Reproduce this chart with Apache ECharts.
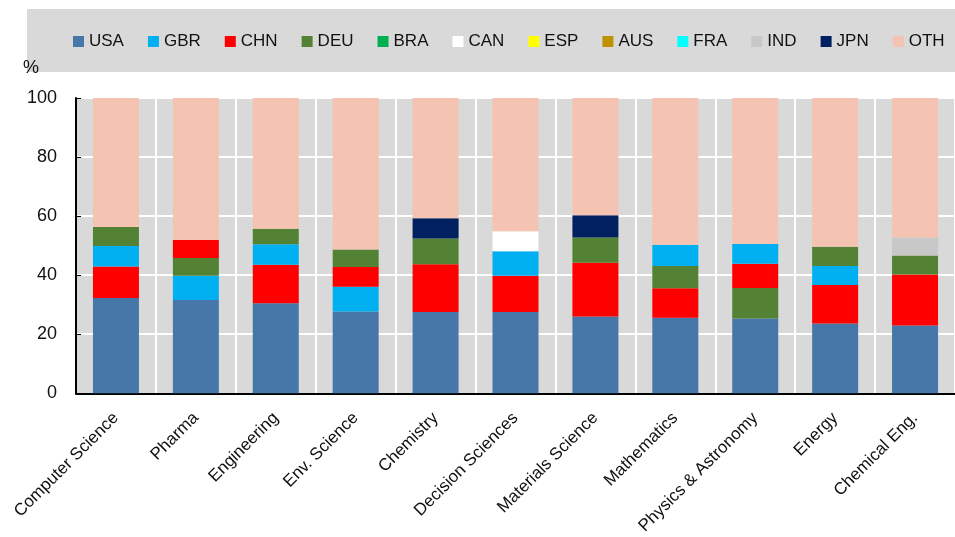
<!DOCTYPE html>
<html>
<head>
<meta charset="utf-8">
<script src="https://cdn.jsdelivr.net/npm/echarts@6/dist/echarts.min.js"></script>
<style>
  html, body { margin: 0; padding: 0; background: #fff; }
  #container { width: 955px; height: 537px; }
</style>
</head>
<body>
<div id="container"></div>
<script>
var dom = document.getElementById("container");
var myChart = echarts.init(dom);

var categories = ['Computer Science', 'Pharma', 'Engineering', 'Env. Science', 'Chemistry',
	'Decision Sciences', 'Materials Science', 'Mathematics', 'Physics & Astronomy', 'Energy', 'Chemical Eng.'];

var countries = ['USA', 'GBR', 'CHN', 'DEU', 'BRA', 'CAN', 'ESP', 'AUS', 'FRA', 'IND', 'JPN', 'OTH'];
var colorList = ['#4677a8', '#00b0f0', '#ff0000', '#548235', '#00b050', '#ffffff',
	'#ffff00', '#bf9000', '#00ffff', '#c8c8c8', '#002060', '#f4c3b2'];

// share of papers, %
var USA = [32.3, 31.6, 30.5, 27.7, 27.5, 27.5, 26.0, 25.6, 25.3, 23.6, 23.0];
var GBR = [7.0, 8.2, 7.0, 8.4, 0, 8.3, 0, 7.2, 6.7, 6.4, 0];
var CHN = [10.6, 6.1, 13.0, 6.7, 16.2, 12.3, 18.2, 10.0, 8.2, 13.1, 17.2];
var DEU = [6.4, 6.0, 5.2, 5.9, 8.7, 0, 8.6, 7.5, 10.4, 6.5, 6.5];
var BRA = [0, 0, 0, 0, 0, 0, 0, 0, 0, 0, 0];
var CAN = [0, 0, 0, 0, 0, 6.8, 0, 0, 0, 0, 0];
var ESP = [0, 0, 0, 0, 0, 0, 0, 0, 0, 0, 0];
var AUS = [0, 0, 0, 0, 0, 0, 0, 0, 0, 0, 0];
var FRA = [0, 0, 0, 0, 0, 0, 0, 0, 0, 0, 0];
var IND = [0, 0, 0, 0, 0, 0, 0, 0, 0, 0, 6.1];
var JPN = [0, 0, 0, 0, 6.9, 0, 7.5, 0, 0, 0, 0];
var OTH = [43.7, 48.1, 44.3, 51.3, 40.7, 45.1, 39.7, 49.7, 49.4, 50.4, 47.2];

// stacking order in each bar, bottom to top
var stackOrder = [
	['USA', 'CHN', 'GBR', 'DEU', 'OTH'],
	['USA', 'GBR', 'DEU', 'CHN', 'OTH'],
	['USA', 'CHN', 'GBR', 'DEU', 'OTH'],
	['USA', 'GBR', 'CHN', 'DEU', 'OTH'],
	['USA', 'CHN', 'DEU', 'JPN', 'OTH'],
	['USA', 'CHN', 'GBR', 'CAN', 'OTH'],
	['USA', 'CHN', 'DEU', 'JPN', 'OTH'],
	['USA', 'CHN', 'DEU', 'GBR', 'OTH'],
	['USA', 'DEU', 'CHN', 'GBR', 'OTH'],
	['USA', 'CHN', 'GBR', 'DEU', 'OTH'],
	['USA', 'CHN', 'DEU', 'IND', 'OTH']
];

var values = {USA: USA, GBR: GBR, CHN: CHN, DEU: DEU, BRA: BRA, CAN: CAN,
	ESP: ESP, AUS: AUS, FRA: FRA, IND: IND, JPN: JPN, OTH: OTH};

var font = '"Liberation Sans", Arial, sans-serif';
var series = [];

// empty series, only for the legend
countries.forEach(function (c, i) {
	series.push({
		name: c,
		type: 'bar',
		stack: 'all',
		barWidth: 46,
		itemStyle: { color: colorList[i] },
		data: []
	});
});

// one series per stacking level, coloured by country
for (var level = 0; level < 5; level++) {
	var data = [];
	for (var k = 0; k < categories.length; k++) {
		var c = stackOrder[k][level];
		data.push({
			value: values[c][k],
			itemStyle: { color: colorList[countries.indexOf(c)] }
		});
	}
	series.push({
		name: 'level' + level,
		type: 'bar',
		stack: 'all',
		barWidth: 46,
		data: data
	});
}

var option = {
	animation: false,
	color: colorList,
	graphic: [{
		type: 'rect',
		left: 27, top: 9,
		shape: { width: 930, height: 63 },
		style: { fill: '#d9d9d9' },
		z: -1
	}],
	legend: {
		data: countries,
		left: 73,
		right: 0,
		top: 33,
		padding: 0,
		icon: 'rect',
		itemWidth: 11,
		itemHeight: 11,
		itemGap: 24,
		selectedMode: false,
		textStyle: { fontFamily: font, fontSize: 17, color: '#111' }
	},
	grid: {
		left: 76,
		top: 98,
		width: 882,
		height: 297,
		show: true,
		backgroundColor: '#d9d9d9',
		borderWidth: 0
	},
	xAxis: {
		type: 'category',
		data: categories,
		axisLine: { lineStyle: { color: '#000', width: 2 } },
		axisTick: { inside: true, length: 4, lineStyle: { color: '#333' } },
		splitLine: { show: true, lineStyle: { color: '#fff', width: 2 } },
		axisLabel: {
			rotate: 45,
			margin: 22,
			interval: 0,
			fontFamily: font,
			fontSize: 17,
			color: '#111'
		}
	},
	yAxis: {
		type: 'value',
		min: 0,
		max: 100,
		interval: 20,
		name: '%',
		nameLocation: 'end',
		nameGap: 21,
		nameTextStyle: {
			fontFamily: font, fontSize: 18, color: '#111',
			align: 'right', padding: [0, 37, 0, 0]
		},
		axisLine: { show: true, lineStyle: { color: '#000', width: 2 } },
		axisTick: { show: true, inside: true, length: 5, lineStyle: { color: '#000' } },
		splitLine: { show: true, lineStyle: { color: '#fff', width: 2 } },
		axisLabel: { margin: 19, fontFamily: font, fontSize: 18, color: '#111' }
	},
	series: series
};

myChart.setOption(option);
</script>
</body>
</html>
